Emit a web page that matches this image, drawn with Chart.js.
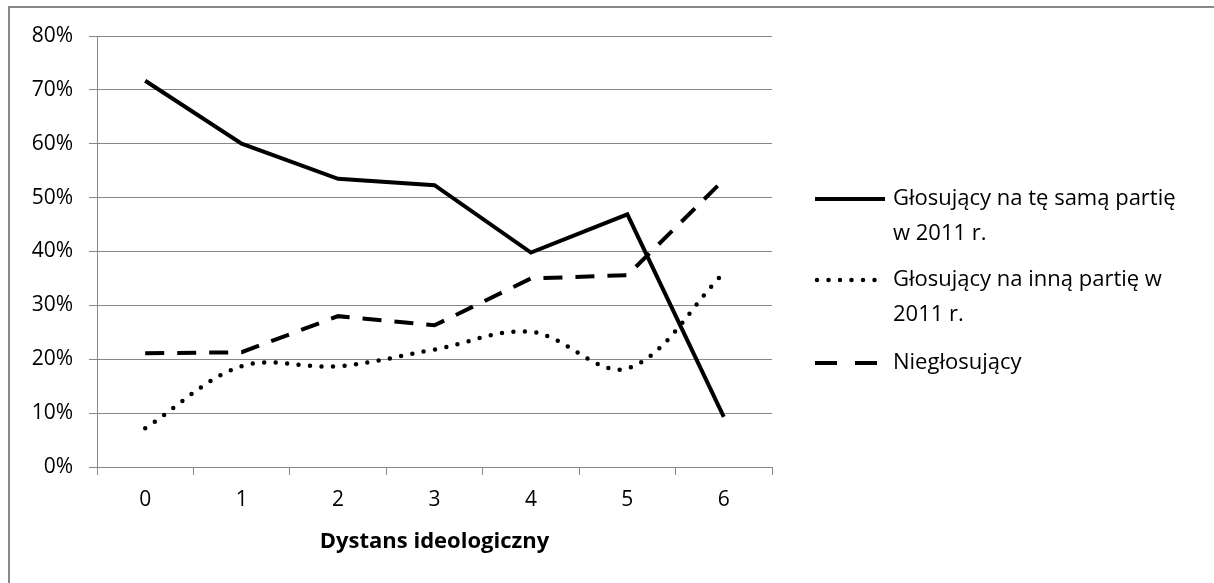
<!DOCTYPE html>
<html>
<head>
<meta charset="utf-8">
<script src="https://cdn.jsdelivr.net/npm/chart.js@4.4.1/dist/chart.umd.min.js"></script>
<style>
  html, body { margin: 0; padding: 0; background: #fff; overflow: hidden; }
  #wrap { position: relative; width: 1214px; height: 583px; }
  #frame { position: absolute; left: 8px; top: 6px; width: 1220px; height: 600px; border-left: 2px solid #888; border-top: 2px solid #888; pointer-events: none; }
</style>
</head>
<body>
<div id="wrap">
  <canvas id="chart" width="1214" height="583"></canvas>
  <div id="frame"></div>
</div>
<script>
// dane
const dystans = ["0", "1", "2", "3", "4", "5", "6"];
const tenSamaPartia = [71.7, 60.0, 53.5, 52.3, 39.8, 46.9, 9.3];
const innaPartia = [7.2, 18.7, 18.7, 21.8, 25.1, 18.3, 36.0];
const nieglosujacy = [21.1, 21.3, 28.0, 26.3, 35.0, 35.6, 53.3];
const etykiety = [
  ["Głosujący na tę samą partię", "w 2011 r."],
  ["Głosujący na inną partię w", "2011 r."],
  ["Niegłosujący"],
];

const FONT = "'Open Sans', Lato, sans-serif";
const GRID = "#868686";

// własna legenda po prawej stronie
const legendaPlugin = {
  id: "legenda",
  afterDraw(chart) {
    const ctx = chart.ctx;
    const rows = [199, 280, 363];
    const lineH = 35;
    chart.data.datasets.forEach((ds, i) => {
      const y = rows[i];
      ctx.save();
      ctx.strokeStyle = ds.borderColor;
      ctx.lineWidth = ds.borderWidth;
      ctx.lineCap = ds.borderCapStyle || "butt";
      ctx.setLineDash(ds.legendDash || ds.borderDash || []);
      ctx.beginPath();
      ctx.moveTo(ds.legendStart || 815, y);
      ctx.lineTo(885, y);
      ctx.stroke();
      ctx.restore();

      ctx.save();
      ctx.fillStyle = "#000";
      ctx.font = "22px " + FONT;
      ctx.textBaseline = "middle";
      etykiety[i].forEach((t, j) => ctx.fillText(t, 893, y + j * lineH));
      ctx.restore();
    });
  },
};

new Chart(document.getElementById("chart"), {
  type: "line",
  data: {
    labels: dystans,
    datasets: [
      {
        label: etykiety[0].join(" "),
        data: tenSamaPartia,
        borderColor: "#000",
        borderWidth: 4,
        pointRadius: 0,
        tension: 0,
      },
      {
        label: etykiety[1].join(" "),
        data: innaPartia,
        borderColor: "#000",
        borderWidth: 4.5,
        borderDash: [0, 11.5],
        borderCapStyle: "round",
        legendStart: 817,
        pointRadius: 0,
        tension: 0.35,
        cubicInterpolationMode: "default",
      },
      {
        label: etykiety[2],
        data: nieglosujacy,
        borderColor: "#000",
        borderWidth: 4,
        borderDash: [19, 13],
        legendDash: [22, 18],
        borderCapStyle: "butt",
        pointRadius: 0,
        tension: 0,
      },
    ],
  },
  options: {
    responsive: false,
    animation: false,
    layout: { padding: { left: 0, top: 36, right: 442, bottom: 24 } },
    plugins: {
      legend: { display: false },
      tooltip: { enabled: false },
    },
    scales: {
      x: {
        offset: true,
        grid: {
          drawOnChartArea: false,
          drawTicks: true,
          tickLength: 8,
          color: GRID,
          offset: true,
        },
        border: { color: GRID },
        ticks: { color: "#000", font: { family: FONT, size: 21 }, padding: 12 },
        title: {
          display: true,
          text: "Dystans ideologiczny",
          color: "#000",
          font: { family: FONT, size: 22, weight: "bold" },
          padding: { top: 8 },
        },
        afterFit(scale) { scale.height = 92; },
      },
      y: {
        min: 0,
        max: 80,
        grid: { color: GRID, tickLength: 8 },
        border: { color: GRID },
        ticks: {
          stepSize: 10,
          color: "#000",
          font: { family: FONT, size: 21 },
          padding: 16,
          callback: (v) => v + "%",
        },
        afterFit(scale) { scale.width = 97; },
      },
    },
  },
  plugins: [legendaPlugin],
});
</script>
</body>
</html>
